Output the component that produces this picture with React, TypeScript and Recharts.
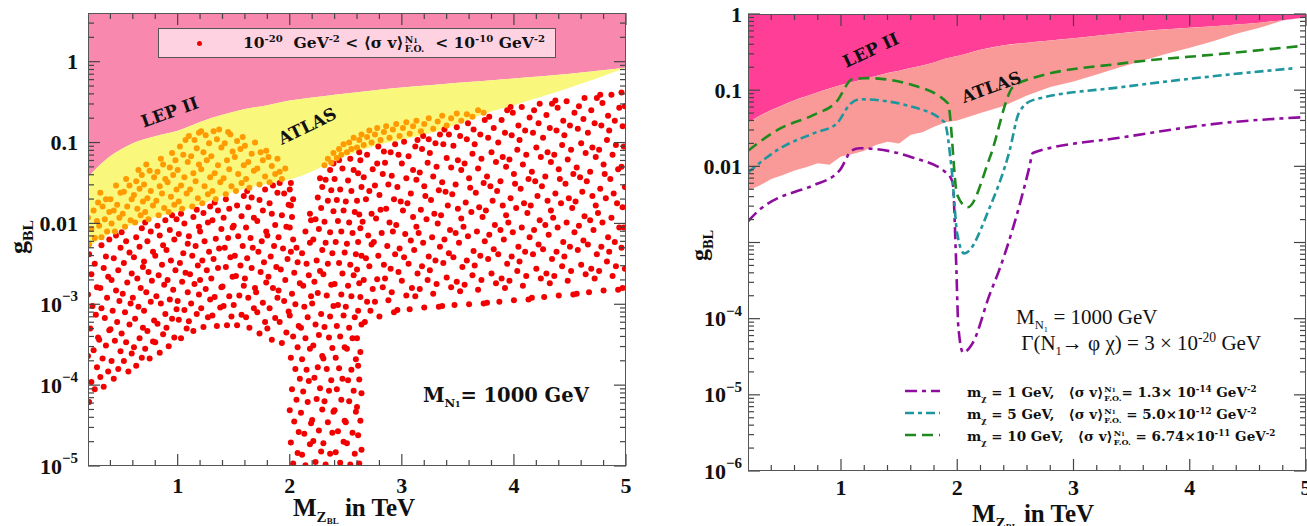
import React from 'react';
import { ComposedChart, Area, Scatter, Line, XAxis, YAxis } from 'recharts';

const FONT = '"Liberation Serif", "DejaVu Serif", serif';
const WIDE = '"DejaVu Serif", "Liberation Serif", serif';

// ---- left panel: exclusion boundaries (TeV -> g_BL)
const leftGrid = [0.2, 0.3, 0.4, 0.5, 0.6, 0.8, 1.0, 1.2, 1.4, 1.6, 1.8, 2.0, 2.2, 2.4, 2.6, 2.8, 3.0, 3.25, 3.5, 3.75, 4.0, 4.25, 4.5, 4.75, 5.0];
const leftLep = [0.037, 0.052, 0.068, 0.083, 0.098, 0.12, 0.14, 0.18, 0.22, 0.26, 0.29, 0.33, 0.36, 0.39, 0.42, 0.45, 0.48, 0.51, 0.55, 0.58, 0.62, 0.66, 0.71, 0.77, 0.84];
const leftAtlas = [0.005, 0.0063, 0.0075, 0.0087, 0.0096, 0.012, 0.014, 0.017, 0.022, 0.027, 0.031, 0.035, 0.044, 0.06, 0.077, 0.094, 0.108, 0.13, 0.17, 0.23, 0.29, 0.37, 0.48, 0.63, 0.84];

// ---- right panel: exclusion boundaries
const rightGrid = [0.2, 0.3, 0.4, 0.5, 0.6, 0.7, 0.8, 0.9, 1.0, 1.1, 1.2, 1.3, 1.4, 1.5, 1.6, 1.7, 1.8, 1.9, 2.0, 2.2, 2.4, 2.6, 2.8, 3.0, 3.2, 3.4, 3.6, 3.8, 4.0, 4.2, 4.4, 4.6, 4.8, 5.0];
const rightLep = [0.037, 0.046, 0.055, 0.064, 0.074, 0.083, 0.094, 0.105, 0.117, 0.128, 0.14, 0.153, 0.168, 0.18, 0.195, 0.21, 0.23, 0.26, 0.28, 0.34, 0.39, 0.42, 0.45, 0.48, 0.52, 0.56, 0.6, 0.63, 0.66, 0.69, 0.73, 0.77, 0.83, 0.9];
const rightAtlas = [0.0048, 0.0056, 0.0068, 0.0077, 0.0088, 0.0097, 0.011, 0.0105, 0.0135, 0.0145, 0.016, 0.019, 0.021, 0.02, 0.026, 0.028, 0.033, 0.038, 0.04, 0.05, 0.062, 0.085, 0.11, 0.13, 0.16, 0.2, 0.245, 0.3, 0.36, 0.44, 0.55, 0.66, 0.82, 0.9];

// ---- scan points [M_Z' (TeV), log10 g_BL], 1e-20 < <sigma v> < 1e-10 GeV^-2
const redLeft: [number, number][] = [
  [0.21, -4.21], [0.26, -4.05], [0.23, -3.96], [0.28, -3.78], [0.2, -3.64], [0.25, -3.57], [0.29, -3.41], [0.22, -3.3], [0.27, -3.13], [0.24, -3.02], [0.2, -2.88], [0.28, -2.79], [0.23, -2.63], [0.26, -2.5], [0.21, -2.38],
  [0.34, -4.02], [0.31, -3.9], [0.38, -3.83], [0.33, -3.67], [0.36, -3.51], [0.3, -3.44], [0.39, -3.32], [0.35, -3.17], [0.32, -3.05], [0.37, -2.92], [0.31, -2.8], [0.38, -2.66], [0.34, -2.55], [0.36, -2.41], [0.32, -2.27], [0.39, -2.2],
  [0.43, -3.92], [0.47, -3.8], [0.41, -3.7], [0.49, -3.58], [0.44, -3.45], [0.4, -3.31], [0.46, -3.22], [0.42, -3.08], [0.48, -2.96], [0.45, -2.83], [0.41, -2.7], [0.47, -2.58], [0.43, -2.43], [0.49, -2.3], [0.45, -2.15],
  [0.56, -3.83], [0.52, -3.7], [0.59, -3.61], [0.54, -3.47], [0.5, -3.36], [0.57, -3.25], [0.53, -3.1], [0.58, -2.99], [0.51, -2.87], [0.55, -2.73], [0.59, -2.62], [0.52, -2.49], [0.57, -2.36], [0.54, -2.22], [0.5, -2.11],
  [0.63, -3.76], [0.68, -3.66], [0.61, -3.53], [0.66, -3.42], [0.69, -3.29], [0.62, -3.18], [0.65, -3.03], [0.6, -2.92], [0.67, -2.8], [0.64, -2.68], [0.69, -2.54], [0.61, -2.42], [0.66, -2.29], [0.63, -2.17], [0.68, -2.06],
  [0.75, -3.67], [0.71, -3.55], [0.78, -3.46], [0.73, -3.33], [0.79, -3.2], [0.7, -3.08], [0.76, -2.97], [0.72, -2.85], [0.77, -2.71], [0.74, -2.6], [0.7, -2.47], [0.78, -2.35], [0.73, -2.22], [0.76, -2.1], [0.71, -1.99],
  [0.84, -3.6], [0.8, -3.47], [0.87, -3.37], [0.82, -3.24], [0.89, -3.12], [0.85, -2.99], [0.81, -2.9], [0.88, -2.76], [0.83, -2.64], [0.86, -2.51], [0.8, -2.4], [0.87, -2.27], [0.84, -2.15], [0.82, -2.03], [0.89, -1.96],
  [0.92, -3.52], [0.97, -3.41], [0.9, -3.29], [0.95, -3.18], [0.99, -3.06], [0.93, -2.94], [0.96, -2.82], [0.91, -2.7], [0.98, -2.58], [0.94, -2.46], [0.9, -2.33], [0.97, -2.2], [0.93, -2.08], [0.99, -1.95], [0.95, -1.9],
  [1.03, -3.42], [1.08, -3.3], [1.01, -3.19], [1.06, -3.07], [1.0, -2.96], [1.09, -2.85], [1.04, -2.72], [1.07, -2.61], [1.02, -2.49], [1.05, -2.37], [1.09, -2.25], [1.01, -2.13], [1.06, -2.0], [1.03, -1.88],
  [1.14, -3.33], [1.1, -3.21], [1.17, -3.12], [1.12, -2.99], [1.19, -2.88], [1.15, -2.75], [1.11, -2.63], [1.18, -2.52], [1.13, -2.4], [1.16, -2.28], [1.1, -2.16], [1.19, -2.04], [1.14, -1.92], [1.17, -1.83],
  [1.23, -3.28], [1.27, -3.16], [1.21, -3.05], [1.29, -2.94], [1.25, -2.81], [1.2, -2.7], [1.26, -2.58], [1.22, -2.46], [1.28, -2.35], [1.24, -2.22], [1.2, -2.1], [1.27, -1.99], [1.23, -1.87], [1.29, -1.79],
  [1.35, -3.27], [1.31, -3.14], [1.38, -3.04], [1.33, -2.91], [1.39, -2.79], [1.3, -2.68], [1.36, -2.55], [1.32, -2.44], [1.37, -2.31], [1.34, -2.19], [1.39, -2.07], [1.31, -1.96], [1.36, -1.84], [1.33, -1.74],
  [1.44, -3.26], [1.48, -3.15], [1.41, -3.02], [1.46, -2.9], [1.4, -2.78], [1.49, -2.66], [1.43, -2.54], [1.47, -2.42], [1.42, -2.3], [1.45, -2.18], [1.49, -2.05], [1.41, -1.93], [1.46, -1.82], [1.43, -1.7],
  [1.53, -3.26], [1.57, -3.13], [1.5, -3.01], [1.55, -2.89], [1.59, -2.77], [1.52, -2.65], [1.56, -2.52], [1.51, -2.4], [1.58, -2.28], [1.54, -2.16], [1.5, -2.03], [1.57, -1.91], [1.53, -1.78], [1.59, -1.66],
  [1.64, -3.29], [1.61, -3.16], [1.68, -3.05], [1.63, -2.92], [1.69, -2.8], [1.6, -2.68], [1.66, -2.55], [1.62, -2.43], [1.67, -2.3], [1.65, -2.18], [1.61, -2.05], [1.68, -1.93], [1.63, -1.8], [1.66, -1.68], [1.62, -1.6],
  [1.73, -3.36], [1.78, -3.22], [1.71, -3.1], [1.76, -2.98], [1.7, -2.85], [1.79, -2.73], [1.74, -2.6], [1.77, -2.48], [1.72, -2.35], [1.75, -2.22], [1.79, -2.1], [1.71, -1.97], [1.76, -1.84], [1.73, -1.71], [1.78, -1.58],
  [1.84, -3.44], [1.8, -3.3], [1.87, -3.17], [1.82, -3.05], [1.89, -2.92], [1.85, -2.8], [1.81, -2.66], [1.88, -2.54], [1.83, -2.41], [1.86, -2.28], [1.8, -2.15], [1.87, -2.02], [1.84, -1.88], [1.82, -1.75], [1.89, -1.62], [1.85, -1.53],
  [1.93, -3.48], [1.97, -3.35], [1.91, -3.22], [1.99, -3.09], [1.95, -2.96], [1.9, -2.83], [1.96, -2.7], [1.92, -2.57], [1.98, -2.44], [1.94, -2.31], [1.9, -2.17], [1.97, -2.04], [1.93, -1.9], [1.99, -1.77], [1.95, -1.63], [1.91, -1.5],
];

const redStrip: [number, number][] = [
  [2.03, -4.97], [2.07, -4.84], [2.01, -4.71], [2.08, -4.58], [2.04, -4.45], [2.0, -4.31], [2.06, -4.18], [2.02, -4.05], [2.09, -3.92], [2.05, -3.8], [2.01, -3.66], [2.07, -3.53], [2.03, -3.4], [2.08, -3.27], [2.0, -3.14],
  [2.05, -3.0], [2.02, -2.87], [2.09, -2.74], [2.04, -2.61], [2.07, -2.48], [2.01, -2.35], [2.06, -2.3], [2.03, -2.2], [2.0, -2.05], [2.02, -1.92], [2.01, -1.78], [2.03, -1.7], [2.0, -1.58], [2.01, -1.5],
  [2.14, -4.99], [2.11, -4.86], [2.18, -4.73], [2.13, -4.6], [2.19, -4.47], [2.1, -4.34], [2.16, -4.21], [2.12, -4.08], [2.17, -3.95], [2.15, -3.81], [2.11, -3.68], [2.18, -3.55], [2.14, -3.42], [2.1, -3.29],
  [2.16, -3.16], [2.13, -3.03], [2.19, -2.9], [2.12, -2.77], [2.17, -2.64], [2.15, -2.5], [2.11, -2.37], [2.18, -2.24], [2.14, -2.1], [2.19, -1.96], [2.18, -1.88],
  [2.23, -4.95], [2.28, -4.82], [2.21, -4.69], [2.26, -4.56], [2.2, -4.43], [2.29, -4.3], [2.24, -4.17], [2.27, -4.04], [2.22, -3.91], [2.25, -3.78], [2.29, -3.64], [2.21, -3.51], [2.26, -3.38], [2.23, -3.25],
  [2.28, -3.12], [2.2, -2.99], [2.25, -2.86], [2.22, -2.72], [2.27, -2.59], [2.24, -2.46], [2.29, -2.33], [2.21, -2.2], [2.26, -2.07], [2.23, -1.95], [2.28, -1.81], [2.25, -1.68], [2.29, -1.55], [2.27, -1.44],
  [2.32, -4.98], [2.36, -4.85], [2.3, -4.72], [2.38, -4.59], [2.34, -4.46], [2.39, -4.33], [2.31, -4.2], [2.35, -4.07], [2.37, -3.94], [2.33, -3.8], [2.3, -3.67], [2.38, -3.54], [2.35, -3.41], [2.31, -3.28], [2.36, -3.15],
  [2.39, -3.02], [2.33, -2.89], [2.37, -2.76], [2.3, -2.63], [2.34, -2.5], [2.38, -2.37], [2.32, -2.24], [2.36, -2.11], [2.31, -1.98], [2.39, -1.85], [2.34, -1.72], [2.37, -1.59], [2.32, -1.46], [2.36, -1.34], [2.39, -1.26],
  [2.45, -4.96], [2.41, -4.83], [2.48, -4.7], [2.43, -4.57], [2.49, -4.44], [2.4, -4.31], [2.46, -4.18], [2.42, -4.05], [2.47, -3.92], [2.44, -3.79], [2.41, -3.66], [2.49, -3.53], [2.45, -3.4], [2.42, -3.27], [2.48, -3.14],
  [2.43, -3.01], [2.46, -2.88], [2.4, -2.75], [2.47, -2.62], [2.44, -2.49], [2.49, -2.36], [2.41, -2.23], [2.46, -2.1], [2.43, -1.97], [2.48, -1.84], [2.42, -1.71], [2.45, -1.58], [2.4, -1.45], [2.47, -1.32], [2.44, -1.22],
  [2.54, -4.98], [2.58, -4.85], [2.51, -4.72], [2.56, -4.59], [2.5, -4.46], [2.59, -4.33], [2.53, -4.2], [2.57, -4.07], [2.52, -3.94], [2.55, -3.81], [2.59, -3.68], [2.51, -3.55], [2.56, -3.42], [2.53, -3.29], [2.58, -3.16],
  [2.5, -3.03], [2.55, -2.9], [2.52, -2.77], [2.57, -2.64], [2.54, -2.51], [2.59, -2.38], [2.51, -2.25], [2.56, -2.12], [2.53, -1.99], [2.58, -1.86], [2.5, -1.73], [2.55, -1.6], [2.52, -1.47], [2.57, -1.34], [2.54, -1.2],
  [2.62, -4.97], [2.64, -4.8], [2.61, -4.62], [2.63, -4.44], [2.6, -4.27], [2.64, -4.1], [2.62, -3.93], [2.61, -3.76], [2.63, -3.59], [2.6, -3.42], [2.64, -3.25], [2.61, -3.08],
  [2.63, -2.91], [2.62, -2.74], [2.6, -2.57], [2.64, -2.4], [2.61, -2.23], [2.63, -2.06], [2.62, -1.89], [2.6, -1.72], [2.64, -1.55], [2.61, -1.38], [2.63, -1.22], [2.62, -1.12],
];

const redRight: [number, number][] = [
  [2.67, -3.22], [2.72, -3.08], [2.69, -2.97], [2.74, -2.81], [2.66, -2.7], [2.71, -2.53], [2.68, -2.43], [2.73, -2.26], [2.7, -2.15], [2.65, -1.98], [2.73, -1.88], [2.68, -1.7], [2.71, -1.6], [2.66, -1.43], [2.74, -1.33], [2.69, -1.15],
  [2.8, -3.15], [2.76, -2.97], [2.83, -2.79], [2.78, -2.69], [2.84, -2.51], [2.79, -2.4], [2.75, -2.23], [2.82, -2.12], [2.77, -1.94], [2.81, -1.83], [2.8, -1.65], [2.76, -1.53], [2.83, -1.39], [2.78, -1.26], [2.84, -1.11], [2.79, -1.05],
  [2.93, -3.1], [2.88, -2.95], [2.91, -2.85], [2.85, -2.68], [2.9, -2.56], [2.94, -2.38], [2.87, -2.28], [2.92, -2.1], [2.89, -1.99], [2.86, -1.82], [2.93, -1.7], [2.88, -1.52], [2.91, -1.41], [2.85, -1.25], [2.9, -1.12], [2.94, -1.02],
  [2.96, -3.07], [3.04, -2.89], [3.0, -2.71], [2.97, -2.6], [3.02, -2.42], [2.98, -2.31], [3.03, -2.13], [2.95, -2.02], [3.01, -1.84], [2.99, -1.73], [2.96, -1.55], [3.04, -1.44], [3.0, -1.26], [2.97, -1.15], [3.02, -0.99],
  [3.07, -3.06], [3.12, -2.9], [3.09, -2.8], [3.14, -2.62], [3.06, -2.5], [3.11, -2.33], [3.08, -2.21], [3.13, -2.04], [3.1, -1.92], [3.05, -1.75], [3.08, -1.63], [3.13, -1.46], [3.1, -1.34], [3.06, -1.17], [3.12, -1.05], [3.14, -0.97],
  [3.2, -3.04], [3.16, -2.81], [3.23, -2.7], [3.18, -2.53], [3.24, -2.41], [3.19, -2.24], [3.15, -2.12], [3.22, -1.95], [3.17, -1.83], [3.21, -1.66], [3.2, -1.54], [3.16, -1.37], [3.23, -1.25], [3.18, -1.08], [3.24, -0.96], [3.19, -0.92],
  [3.33, -3.03], [3.28, -2.87], [3.31, -2.75], [3.25, -2.58], [3.3, -2.46], [3.34, -2.29], [3.27, -2.17], [3.32, -2.0], [3.29, -1.88], [3.26, -1.71], [3.33, -1.59], [3.28, -1.42], [3.31, -1.3], [3.25, -1.13], [3.3, -1.01], [3.34, -0.9],
  [3.36, -3.02], [3.44, -2.79], [3.4, -2.67], [3.37, -2.49], [3.42, -2.37], [3.38, -2.2], [3.43, -2.08], [3.35, -1.9], [3.41, -1.78], [3.39, -1.61], [3.36, -1.49], [3.44, -1.31], [3.4, -1.19], [3.37, -1.02], [3.42, -0.9], [3.38, -0.84],
  [3.47, -3.01], [3.52, -2.84], [3.49, -2.72], [3.54, -2.54], [3.46, -2.42], [3.51, -2.24], [3.48, -2.12], [3.53, -1.94], [3.5, -1.82], [3.45, -1.64], [3.48, -1.52], [3.53, -1.34], [3.5, -1.22], [3.46, -1.04], [3.52, -0.92], [3.49, -0.81],
  [3.6, -3.0], [3.56, -2.76], [3.63, -2.64], [3.58, -2.46], [3.64, -2.34], [3.59, -2.16], [3.55, -2.04], [3.62, -1.86], [3.57, -1.74], [3.61, -1.56], [3.6, -1.44], [3.56, -1.26], [3.63, -1.14], [3.58, -0.96], [3.64, -0.84], [3.59, -0.76],
  [3.73, -2.99], [3.68, -2.82], [3.71, -2.7], [3.65, -2.52], [3.7, -2.4], [3.74, -2.22], [3.67, -2.1], [3.72, -1.92], [3.69, -1.8], [3.66, -1.62], [3.73, -1.5], [3.68, -1.32], [3.71, -1.2], [3.65, -1.02], [3.7, -0.9], [3.74, -0.72],
  [3.76, -2.98], [3.84, -2.74], [3.8, -2.62], [3.77, -2.44], [3.82, -2.32], [3.78, -2.14], [3.83, -2.02], [3.75, -1.84], [3.81, -1.72], [3.79, -1.54], [3.76, -1.42], [3.84, -1.24], [3.8, -1.12], [3.77, -0.94], [3.82, -0.82], [3.78, -0.68],
  [3.87, -2.97], [3.92, -2.8], [3.89, -2.68], [3.94, -2.5], [3.86, -2.38], [3.91, -2.2], [3.88, -2.08], [3.93, -1.9], [3.9, -1.78], [3.85, -1.6], [3.88, -1.48], [3.93, -1.3], [3.9, -1.18], [3.86, -1.0], [3.92, -0.88], [3.89, -0.72], [3.94, -0.6],
  [4.0, -2.95], [3.96, -2.71], [4.03, -2.59], [3.98, -2.41], [4.04, -2.29], [3.99, -2.11], [3.95, -1.99], [4.02, -1.81], [3.97, -1.69], [4.01, -1.51], [4.0, -1.39], [3.96, -1.21], [4.03, -1.09], [3.98, -0.91], [4.04, -0.79], [3.99, -0.63], [3.97, -0.56],
  [4.13, -2.94], [4.08, -2.77], [4.11, -2.65], [4.05, -2.47], [4.1, -2.35], [4.14, -2.17], [4.07, -2.05], [4.12, -1.87], [4.09, -1.75], [4.06, -1.57], [4.13, -1.45], [4.08, -1.27], [4.11, -1.15], [4.05, -0.97], [4.1, -0.85], [4.14, -0.69], [4.07, -0.56],
  [4.16, -2.92], [4.24, -2.68], [4.2, -2.56], [4.17, -2.38], [4.22, -2.26], [4.18, -2.08], [4.23, -1.96], [4.15, -1.78], [4.21, -1.66], [4.19, -1.48], [4.16, -1.36], [4.24, -1.18], [4.2, -1.06], [4.17, -0.88], [4.22, -0.76], [4.18, -0.6], [4.23, -0.52],
  [4.27, -2.91], [4.32, -2.74], [4.29, -2.62], [4.34, -2.44], [4.26, -2.32], [4.31, -2.14], [4.28, -2.02], [4.33, -1.84], [4.3, -1.72], [4.25, -1.54], [4.28, -1.42], [4.33, -1.24], [4.3, -1.12], [4.26, -0.94], [4.32, -0.82], [4.29, -0.66], [4.34, -0.52],
  [4.4, -2.89], [4.36, -2.65], [4.43, -2.53], [4.38, -2.35], [4.44, -2.23], [4.39, -2.05], [4.35, -1.93], [4.42, -1.75], [4.37, -1.63], [4.41, -1.45], [4.4, -1.33], [4.36, -1.15], [4.43, -1.03], [4.38, -0.85], [4.44, -0.73], [4.39, -0.57], [4.37, -0.48],
  [4.53, -2.88], [4.48, -2.71], [4.51, -2.59], [4.45, -2.41], [4.5, -2.29], [4.54, -2.11], [4.47, -1.99], [4.52, -1.81], [4.49, -1.69], [4.46, -1.51], [4.53, -1.39], [4.48, -1.21], [4.51, -1.09], [4.45, -0.91], [4.5, -0.79], [4.54, -0.63], [4.47, -0.49],
  [4.56, -2.87], [4.64, -2.63], [4.6, -2.51], [4.57, -2.33], [4.62, -2.21], [4.58, -2.03], [4.63, -1.91], [4.55, -1.73], [4.61, -1.61], [4.59, -1.43], [4.56, -1.31], [4.64, -1.13], [4.6, -1.01], [4.57, -0.83], [4.62, -0.71], [4.58, -0.55], [4.63, -0.45],
  [4.67, -2.85], [4.72, -2.68], [4.69, -2.56], [4.74, -2.38], [4.66, -2.26], [4.71, -2.08], [4.68, -1.96], [4.73, -1.78], [4.7, -1.66], [4.65, -1.48], [4.68, -1.36], [4.73, -1.18], [4.7, -1.06], [4.66, -0.88], [4.72, -0.76], [4.69, -0.6], [4.74, -0.45],
  [4.8, -2.83], [4.76, -2.59], [4.83, -2.47], [4.78, -2.29], [4.84, -2.17], [4.79, -1.99], [4.75, -1.87], [4.82, -1.69], [4.77, -1.57], [4.81, -1.39], [4.8, -1.27], [4.76, -1.09], [4.83, -0.97], [4.78, -0.79], [4.84, -0.67], [4.79, -0.51], [4.77, -0.41],
  [4.93, -2.82], [4.88, -2.65], [4.91, -2.53], [4.85, -2.35], [4.9, -2.23], [4.94, -2.05], [4.87, -1.93], [4.92, -1.75], [4.89, -1.63], [4.86, -1.45], [4.93, -1.33], [4.88, -1.15], [4.91, -1.03], [4.85, -0.85], [4.9, -0.73], [4.94, -0.57], [4.87, -0.41],
  [4.97, -2.8], [4.99, -2.56], [4.96, -2.3], [4.98, -2.05], [4.97, -1.8], [4.99, -1.55], [4.96, -1.3], [4.98, -1.05], [4.97, -0.8], [4.99, -0.55], [4.96, -0.38],
];

// scan points excluded by ATLAS (drawn orange), [TeV, log10 g_BL]
const orangePts: [number, number][] = [
  [0.21, -2.26], [0.26, -2.18], [0.23, -2.07], [0.28, -1.97], [0.2, -1.93], [0.25, -1.84], [0.29, -1.74],
  [0.32, -2.17], [0.37, -2.1], [0.3, -2.03], [0.35, -1.95], [0.39, -1.86], [0.33, -1.79], [0.36, -1.7], [0.31, -1.62],
  [0.44, -2.1], [0.41, -2.0], [0.48, -1.93], [0.43, -1.84], [0.46, -1.77], [0.4, -1.7], [0.49, -1.62], [0.45, -1.53],
  [0.53, -2.04], [0.58, -1.96], [0.51, -1.88], [0.55, -1.79], [0.59, -1.7], [0.52, -1.61], [0.57, -1.53], [0.54, -1.45],
  [0.62, -1.99], [0.67, -1.9], [0.64, -1.82], [0.69, -1.73], [0.61, -1.65], [0.66, -1.57], [0.63, -1.48], [0.68, -1.4], [0.65, -1.34],
  [0.74, -1.95], [0.71, -1.86], [0.78, -1.78], [0.73, -1.69], [0.76, -1.6], [0.7, -1.52], [0.79, -1.43], [0.75, -1.35], [0.72, -1.27],
  [0.83, -1.9], [0.88, -1.81], [0.81, -1.72], [0.86, -1.63], [0.84, -1.54], [0.89, -1.45], [0.82, -1.36], [0.87, -1.27], [0.85, -1.2],
  [0.92, -1.86], [0.97, -1.77], [0.94, -1.67], [0.99, -1.58], [0.91, -1.49], [0.96, -1.4], [0.93, -1.31], [0.98, -1.22], [0.95, -1.13],
  [1.04, -1.82], [1.01, -1.73], [1.08, -1.63], [1.03, -1.53], [1.06, -1.43], [1.0, -1.34], [1.09, -1.24], [1.05, -1.15], [1.02, -1.05], [1.07, -0.97],
  [1.13, -1.79], [1.18, -1.69], [1.11, -1.58], [1.16, -1.48], [1.14, -1.38], [1.19, -1.27], [1.12, -1.17], [1.17, -1.07], [1.15, -0.97], [1.1, -0.92], [1.19, -0.88],
  [1.22, -1.75], [1.27, -1.64], [1.24, -1.54], [1.29, -1.43], [1.21, -1.33], [1.26, -1.22], [1.23, -1.12], [1.28, -1.01], [1.25, -0.91], [1.21, -0.86],
  [1.34, -1.7], [1.31, -1.6], [1.38, -1.49], [1.33, -1.38], [1.36, -1.28], [1.3, -1.17], [1.39, -1.06], [1.35, -0.96], [1.32, -0.86], [1.37, -0.84],
  [1.43, -1.64], [1.48, -1.54], [1.41, -1.44], [1.46, -1.33], [1.44, -1.22], [1.49, -1.11], [1.42, -1.01], [1.47, -0.9], [1.45, -0.87],
  [1.52, -1.6], [1.57, -1.5], [1.54, -1.39], [1.59, -1.28], [1.51, -1.18], [1.56, -1.08], [1.53, -0.98], [1.58, -0.93],
  [1.64, -1.56], [1.61, -1.45], [1.68, -1.35], [1.63, -1.24], [1.66, -1.14], [1.6, -1.04], [1.69, -1.0],
  [1.73, -1.52], [1.78, -1.42], [1.71, -1.32], [1.76, -1.22], [1.74, -1.12], [1.79, -1.1],
  [1.82, -1.49], [1.87, -1.39], [1.84, -1.29], [1.89, -1.2], [1.81, -1.18], [1.93, -1.45], [1.91, -1.36], [1.96, -1.32],
  [2.31, -1.28], [2.34, -1.2], [2.37, -1.25], [2.39, -1.13], [2.42, -1.19], [2.44, -1.08], [2.46, -1.15], [2.48, -1.02], [2.51, -1.12], [2.53, -1.0], [2.55, -1.08], [2.57, -0.94],
  [2.6, -1.06], [2.62, -0.97], [2.64, -0.9], [2.66, -1.03], [2.69, -0.93], [2.71, -0.85], [2.73, -1.0], [2.76, -0.9], [2.78, -0.82], [2.81, -0.97], [2.84, -0.87], [2.86, -0.8],
  [2.89, -0.94], [2.92, -0.84], [2.95, -0.77], [2.98, -0.92], [3.01, -0.82], [3.04, -0.75], [3.07, -0.89], [3.1, -0.8], [3.13, -0.73], [3.17, -0.86], [3.2, -0.77], [3.24, -0.7],
  [3.28, -0.83], [3.32, -0.74], [3.36, -0.67], [3.4, -0.79], [3.44, -0.7], [3.49, -0.64], [3.53, -0.73], [3.58, -0.65], [3.63, -0.68], [3.68, -0.6], [3.73, -0.63],
];

// ---- right panel relic-density curves [TeV, g_BL]
const mchi1: [number, number][] = [
  [0.2, 0.0019], [0.3, 0.0027], [0.47, 0.0039], [0.6, 0.0046], [0.76, 0.0056], [0.99, 0.0089], [1.09, 0.016], [1.16, 0.0173], [1.62, 0.013], [1.91, 0.0081], [1.96, 0.0062],
  [1.99, 5.8e-4], [2.01, 7.6e-5], [2.05, 3.6e-5], [2.13, 4.7e-5], [2.28, 2.1e-4], [2.36, 4.3e-4], [2.62, 0.0097], [2.65, 0.015], [3.42, 0.024], [4.28, 0.037], [4.96, 0.044],
];
const mchi5: [number, number][] = [
  [0.2, 0.0083], [0.47, 0.017], [0.76, 0.027], [0.96, 0.036], [1.08, 0.066], [1.16, 0.076], [1.62, 0.06], [1.89, 0.038], [1.95, 0.0097], [2.0, 0.0013], [2.06, 7.2e-4],
  [2.28, 0.0029], [2.45, 0.016], [2.53, 0.05], [2.65, 0.074], [3.42, 0.11], [4.28, 0.157], [4.91, 0.195],
];
const mchi10: [number, number][] = [
  [0.2, 0.016], [0.47, 0.031], [0.76, 0.047], [0.96, 0.07], [1.1, 0.14], [1.22, 0.144], [1.62, 0.116], [1.92, 0.067], [2.0, 0.0042], [2.09, 0.0029],
  [2.28, 0.013], [2.48, 0.11], [2.65, 0.144], [3.42, 0.225], [4.28, 0.3], [4.96, 0.38],
];

// ---- ticks
const xMajor = [1, 2, 3, 4, 5];
const xMinor = [0.4, 0.6, 0.8, 1.2, 1.4, 1.6, 1.8, 2.2, 2.4, 2.6, 2.8, 3.2, 3.4, 3.6, 3.8, 4.2, 4.4, 4.6, 4.8];
const leftYMajor = [1e-5, 1e-4, 1e-3, 0.01, 0.1, 1];
const leftYLabels = ['10^−5', '10^−4', '10^−3', '0.01', '0.1', '1'];
const rightYMajor = [1e-6, 1e-5, 1e-4, 1e-3, 0.01, 0.1, 1];
const rightYLabels = ['10^−6', '10^−5', '10^−4', '', '0.01', '0.1', '1'];

const minorsOf = (majors: number[], max: number) =>
  majors.flatMap((m) => [2, 3, 4, 5, 6, 7, 8, 9].map((k) => +(k * m).toPrecision(3))).filter((v) => v < max);

const toXY = (pts: [number, number][]) => pts.map(([x, y]) => ({ x, y }));
const fromLog = (pts: [number, number][]) => pts.map(([x, e]) => ({ x, y: Math.pow(10, e) }));
const leftData = leftGrid.map((x, i) => ({ x, lep: [leftLep[i], 4], atl: [leftAtlas[i], leftLep[i]] }));
const rightData = rightGrid.map((x, i) => ({ x, lep: [rightLep[i], 1], atl: [rightAtlas[i], rightLep[i]] }));

const TICK = '#444';

const makeYTick = (majors: number[], labels: string[], plotW: number, gap: number) => (props: any) => {
  const { x, y, payload } = props;
  const i = majors.indexOf(payload.value);
  const edge = x + gap;
  const len = i >= 0 ? 12 : 6;
  const lab = i >= 0 ? labels[i] : '';
  const [base, sup] = lab.split('^');
  return (
    <g>
      <line x1={edge} x2={edge + len} y1={y} y2={y} stroke={TICK} strokeWidth={1.2} />
      <line x1={edge + plotW} x2={edge + plotW - len} y1={y} y2={y} stroke={TICK} strokeWidth={1.2} />
      {lab && (
        <text x={x} y={y} textAnchor="end" dominantBaseline="central" fontSize={22} fontWeight="bold" fill="#111" fontFamily={FONT}>
          {base}
          {sup && <tspan fontSize={15} dy={-8}>{sup}</tspan>}
        </text>
      )}
    </g>
  );
};

const makeXTick = (plotH: number, labDy: number) => (props: any) => {
  const { x, y, payload } = props;
  const major = xMajor.includes(payload.value);
  const len = major ? 12 : 6;
  return (
    <g>
      <line x1={x} x2={x} y1={y} y2={y - len} stroke={TICK} strokeWidth={1.2} />
      <line x1={x} x2={x} y1={y - plotH} y2={y - plotH + len} stroke={TICK} strokeWidth={1.2} />
      {major && (
        <text x={x} y={y + labDy} textAnchor="middle" dominantBaseline="central" fontSize={22} fontWeight="bold" fill="#111" fontFamily={FONT}>
          {payload.value}
        </text>
      )}
    </g>
  );
};

const dot = (fill: string) => (p: any) => <circle cx={p.cx} cy={p.cy} r={3} fill={fill} />;

const Sv = () => (
  <span>
    ⟨σ v⟩
    <span style={{ display: 'inline-flex', flexDirection: 'column', verticalAlign: 'middle', fontSize: '0.6em', lineHeight: 1, marginLeft: 1 }}>
      <span>N<span style={{ fontSize: '0.7em' }}>1</span></span>
      <span>F.O.</span>
    </span>
  </span>
);
const Sup = ({ c }: { c: string }) => <span style={{ fontSize: '0.65em', verticalAlign: 'super', lineHeight: 0 }}>{c}</span>;
const Sub = ({ c }: { c: string }) => <span style={{ fontSize: '0.6em', verticalAlign: 'sub', lineHeight: 0 }}>{c}</span>;

const abs = (l: number, t: number, extra: React.CSSProperties = {}): React.CSSProperties => ({
  position: 'absolute', left: l, top: t, whiteSpace: 'nowrap', fontFamily: FONT, color: '#111', ...extra,
});

export default function App() {
  return (
    <div style={{ position: 'absolute', left: 0, top: 0, width: 1307, height: 526, overflow: 'hidden', background: '#fff', fontFamily: FONT }}>
      {/* left panel */}
      <div style={{ position: 'absolute', left: 0, top: 0 }}>
        <ComposedChart width={640} height={526} data={leftData} margin={{ top: 13, right: 14, left: 28, bottom: 30 }}>
          <XAxis dataKey="x" type="number" domain={[0.2, 5]} allowDataOverflow ticks={[...xMinor, ...xMajor]} interval={0}
            tickSize={0} tickMargin={0} axisLine={false} height={30} tick={makeXTick(453, 19)} />
          <YAxis type="number" scale="log" domain={[1e-5, 4]} allowDataOverflow width={60}
            ticks={[...leftYMajor, ...minorsOf(leftYMajor, 4)]} interval={0} tickSize={0} tickMargin={10} axisLine={false}
            tick={makeYTick(leftYMajor, leftYLabels, 538, 10)} />
          <Area dataKey="lep" type="monotone" stroke="none" fill="#F888AD" fillOpacity={1} isAnimationActive={false} />
          <Area dataKey="atl" type="monotone" stroke="none" fill="#F9F77C" fillOpacity={1} isAnimationActive={false} />
          <Scatter data={fromLog(redLeft)} dataKey="y" shape={dot('#F20000')} isAnimationActive={false} />
          <Scatter data={fromLog(redStrip)} dataKey="y" shape={dot('#F20000')} isAnimationActive={false} />
          <Scatter data={fromLog(redRight)} dataKey="y" shape={dot('#F20000')} isAnimationActive={false} />
          <Scatter data={fromLog(orangePts)} dataKey="y" shape={dot('#FF9A00')} isAnimationActive={false} />
        </ComposedChart>
      </div>

      {/* right panel */}
      <div style={{ position: 'absolute', left: 660, top: 0 }}>
        <ComposedChart width={647} height={526} data={rightData} margin={{ top: 14, right: 1, left: 28, bottom: 25 }}>
          <XAxis dataKey="x" type="number" domain={[0.2, 5]} allowDataOverflow ticks={[...xMinor, ...xMajor]} interval={0}
            tickSize={0} tickMargin={0} axisLine={false} height={30} tick={makeXTick(457, 16)} />
          <YAxis type="number" scale="log" domain={[1e-6, 1]} allowDataOverflow width={60}
            ticks={[...rightYMajor, ...minorsOf(rightYMajor, 1)]} interval={0} tickSize={0} tickMargin={6} axisLine={false}
            tick={makeYTick(rightYMajor, rightYLabels, 558, 6)} />
          <Area dataKey="lep" type="monotone" stroke="none" fill="#FF3F97" fillOpacity={1} isAnimationActive={false} />
          <Area dataKey="atl" type="linear" stroke="none" fill="#FA9A98" fillOpacity={1} isAnimationActive={false} />
          <Line data={toXY(mchi1)} dataKey="y" type="monotone" stroke="#8E0C9E" strokeWidth={2.6} strokeDasharray="12 5 4 5" dot={false} isAnimationActive={false} />
          <Line data={toXY(mchi5)} dataKey="y" type="monotone" stroke="#1E969E" strokeWidth={2.6} strokeDasharray="9 4 4 4" dot={false} isAnimationActive={false} />
          <Line data={toXY(mchi10)} dataKey="y" type="monotone" stroke="#1E8A1E" strokeWidth={2.6} strokeDasharray="11 6" dot={false} isAnimationActive={false} />
        </ComposedChart>
      </div>

      {/* frames */}
      <div style={{ position: 'absolute', left: 88, top: 13, width: 538, height: 453, border: '1.5px solid #555', boxSizing: 'border-box', pointerEvents: 'none' }} />
      <div style={{ position: 'absolute', left: 748, top: 14, width: 558, height: 457, border: '1.5px solid #555', boxSizing: 'border-box', pointerEvents: 'none' }} />

      {/* left legend */}
      <div style={{ position: 'absolute', left: 158, top: 28, width: 398, height: 30, background: '#FFD2E2', border: '1px solid #555', boxSizing: 'border-box' }}>
        <div style={{ position: 'absolute', left: 38, top: 12, width: 5, height: 5, borderRadius: '50%', background: '#F20000' }} />
        <div style={abs(84, 0, { lineHeight: '28px', fontSize: 15.5, fontWeight: 'bold', fontFamily: WIDE })}>
          10<Sup c="-20" />&nbsp; GeV<Sup c="-2" /> &lt; <Sv /> &nbsp;&lt; 10<Sup c="-10" /> GeV<Sup c="-2" />
        </div>
      </div>

      {/* left annotations */}
      <div style={abs(140, 102, { fontSize: 17, fontWeight: 'bold', fontFamily: WIDE, transform: 'rotate(-20deg)', transformOrigin: 'center' })}>LEP II</div>
      <div style={abs(276, 116, { fontSize: 17, fontWeight: 'bold', fontFamily: WIDE, transform: 'rotate(-26deg)', transformOrigin: 'center' })}>ATLAS</div>
      <div style={abs(423, 384, { fontSize: 19.5, fontWeight: 'bold', fontFamily: WIDE })}>M<Sub c="N₁" />= 1000 GeV</div>
      <div style={abs(2, 222, { fontSize: 26, fontWeight: 'bold', transform: 'rotate(-90deg)', transformOrigin: 'center' })}>g<Sub c="BL" /></div>
      <div style={abs(293, 494, { fontSize: 25, fontWeight: 'bold' })}>M<Sub c="Z" /><span style={{ fontSize: 9, verticalAlign: -8 }}>BL</span> in TeV</div>

      {/* right annotations */}
      <div style={abs(841, 40, { fontSize: 17, fontWeight: 'bold', fontFamily: WIDE, transform: 'rotate(-25deg)', transformOrigin: 'center' })}>LEP II</div>
      <div style={abs(960, 77, { fontSize: 17, fontWeight: 'bold', fontFamily: WIDE, transform: 'rotate(-20deg)', transformOrigin: 'center' })}>ATLAS</div>
      <div style={abs(684, 232, { fontSize: 24, fontWeight: 'bold', transform: 'rotate(-90deg)', transformOrigin: 'center' })}>g<Sub c="BL" /></div>
      <div style={abs(972, 500, { fontSize: 25, fontWeight: 'bold' })}>M<Sub c="Z" /><span style={{ fontSize: 9, verticalAlign: -8 }}>BL</span> in TeV</div>
      <div style={abs(1016, 304, { fontSize: 21, lineHeight: '26px' })}>
        M<Sub c="N₁" /> = 1000 GeV<br />
        &nbsp;Γ(N<Sub c="1" />→ φ χ) = 3 × 10<Sup c="-20" /> GeV
      </div>

      {/* right legend */}
      <svg style={{ position: 'absolute', left: 900, top: 380 }} width={50} height={64}>
        <line x1={5} x2={40} y1={11} y2={11} stroke="#8E0C9E" strokeWidth={2.6} strokeDasharray="12 5 4 5" />
        <line x1={5} x2={40} y1={33} y2={33} stroke="#1E969E" strokeWidth={2.6} strokeDasharray="9 4 4 4" />
        <line x1={5} x2={40} y1={55} y2={55} stroke="#1E8A1E" strokeWidth={2.6} strokeDasharray="11 6" />
      </svg>
      <div style={abs(967, 381, { fontSize: 13.5, fontWeight: 'bold', fontFamily: WIDE, lineHeight: '22px' })}>
        <div>m<Sub c="χ" /> = 1 GeV,&nbsp;&nbsp; <Sv />= 1.3× 10<Sup c="-14" /> GeV<Sup c="-2" /></div>
        <div>m<Sub c="χ" /> = 5 GeV,&nbsp;&nbsp; <Sv /> = 5.0×10<Sup c="-12" /> GeV<Sup c="-2" /></div>
        <div>m<Sub c="χ" /> = 10 GeV,&nbsp;&nbsp; <Sv /> = 6.74×10<Sup c="-11" /> GeV<Sup c="-2" /></div>
      </div>
    </div>
  );
}
